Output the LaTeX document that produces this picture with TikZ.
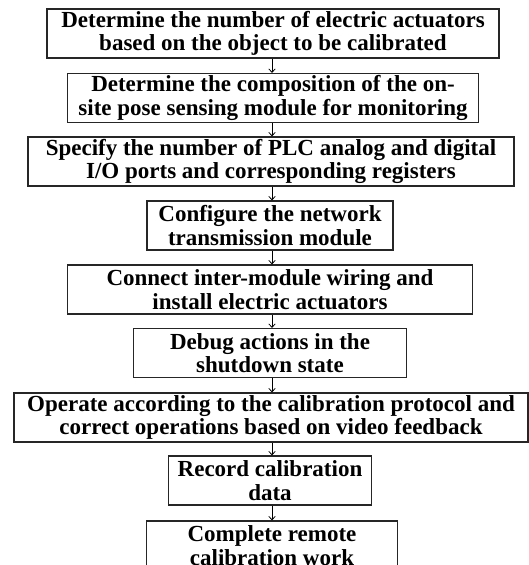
\documentclass[tikz,border=0pt]{standalone}
\usepackage{fontspec}
\setmainfont{Liberation Serif}
\usepackage{tikz}
\usetikzlibrary{arrows.meta}

\begin{document}
\begin{tikzpicture}[x=1pt, y=-1pt,
    stepbox/.style={draw=black!85, line width=1.2pt, align=center,
      font=\bfseries\fontsize{23}{23.5}\selectfont, inner sep=0pt,
      minimum height=49pt, execute at begin node={\rule{0pt}{20pt}}},
    flow/.style={-{Straight Barb[length=3.5pt,width=6.5pt]}, line width=0.8pt}]
    % Fix the canvas
    \useasboundingbox (0,0) rectangle (529,565);

    % Draw the steps
    \node[stepbox, minimum width=452pt] (actuators) at (273,33.5)
      {Determine the number of electric actuators\\based on the object to be calibrated};
    \node[stepbox, minimum width=411pt] (sensing) at (273,98)
      {Determine the composition of the on-\\site pose sensing module for monitoring};
    \node[stepbox, minimum width=486pt] (ports) at (271,161.5)
      {Specify the number of PLC analog and digital\\I/O ports and corresponding registers};
    \node[stepbox, minimum width=246pt] (network) at (270,225.5)
      {Configure the network\\transmission module};
    \node[stepbox, minimum width=405pt] (wiring) at (270,289.5)
      {Connect inter-module wiring and\\install electric actuators};
    \node[stepbox, minimum width=273pt] (debug) at (270,353)
      {Debug actions in the\\shutdown state};
    \node[stepbox, minimum width=514pt] (operate) at (271,417.5)
      {Operate according to the calibration protocol and\\correct operations based on video feedback};
    \node[stepbox, minimum width=203pt] (record) at (270,480.5)
      {Record calibration\\data};
    \node[stepbox, minimum width=251pt] (complete) at (272,545.5)
      {Complete remote\\calibration work};

    % Draw arrows between the steps
    \draw[flow] (actuators.south -| 272,0) -- (sensing.north -| 272,0);
    \draw[flow] (sensing.south -| 272,0) -- (ports.north -| 272,0);
    \draw[flow] (ports.south -| 272,0) -- (network.north -| 272,0);
    \draw[flow] (network.south -| 272,0) -- (wiring.north -| 272,0);
    \draw[flow] (wiring.south -| 272,0) -- (debug.north -| 272,0);
    \draw[flow] (debug.south -| 272,0) -- (operate.north -| 272,0);
    \draw[flow] (operate.south -| 272,0) -- (record.north -| 272,0);
    \draw[flow] (record.south -| 272,0) -- (complete.north -| 272,0);
\end{tikzpicture}
\end{document}
